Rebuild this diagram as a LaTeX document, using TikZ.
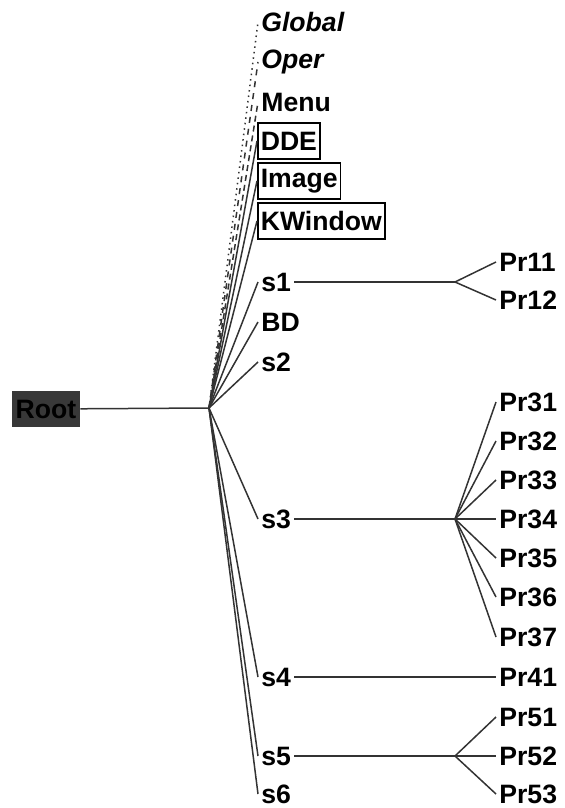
\documentclass[tikz,border=0pt]{standalone}
\usepackage{fontspec}
\setmainfont{Liberation Sans}
\tikzset{
	lbl/.style={anchor=west,inner sep=1.5pt,font=\bfseries\fontsize{13.3}{15}\selectfont},
	boxlbl/.style={lbl,draw,thick,minimum height=18pt},
	link/.style={line width=0.75pt,black!80}
}

\begin{document}
\begin{tikzpicture}[x=0.5pt,y=-0.5pt]
	\useasboundingbox (0,0) rectangle (564,808);
		\node[lbl,anchor=center,fill=black!78,text=black,minimum width=34pt,minimum height=18pt] (root) at (46,409) {Root};
		\coordinate (hub) at (209,408);
		\draw[link] (root) -- (hub);
			\node[lbl] (glob) at (258,22) {\itshape Global};
			\node[lbl] (oper) at (258,62) {\itshape Oper};
			\node[lbl] (menu) at (258,102) {Menu};
			\node[boxlbl] (dde) at (257,141) {DDE};
			\node[boxlbl] (image) at (257,181) {Image};
			\node[boxlbl] (kwin) at (257,221) {KWindow};
			\node[lbl] (s1) at (258,282) {s1};
			\node[lbl] (bd) at (258,322) {BD};
			\node[lbl] (s2) at (258,362) {s2};
			\node[lbl] (s3) at (258,519) {s3};
			\node[lbl] (s4) at (258,677) {s4};
			\node[lbl] (s5) at (258,756) {s5};
			\node[lbl] (s6) at (258,794) {s6};
		\draw[link,dotted] (hub) -- (glob.west);
		\draw[link,dashed] (hub) -- (oper.west);
		\draw[link,densely dashed] (hub) -- (menu.west);
		\foreach \c in {dde,image,kwin,s1,bd,s2,s3,s4,s5,s6}
			\draw[link] (hub) -- (\c.west);
		\coordinate (hub1) at (455,282);
		\coordinate (hub3) at (455,519);
		\coordinate (hub5) at (455,756);
			\node[lbl] (pr11) at (496,262) {Pr11};
			\node[lbl] (pr12) at (496,300) {Pr12};
			\foreach \n/\y in {1/402,2/441,3/480,4/519,5/558,6/597,7/637}
				\node[lbl] (pr3\n) at (496,\y) {Pr3\n};
			\node[lbl] (pr41) at (496,677) {Pr41};
			\node[lbl] (pr51) at (496,717) {Pr51};
			\node[lbl] (pr52) at (496,756) {Pr52};
			\node[lbl] (pr53) at (496,794) {Pr53};
		\draw[link] (s1) -- (hub1);
		\draw[link] (hub1) -- (pr11.west);
		\draw[link] (hub1) -- (pr12.west);
		\draw[link] (s3) -- (hub3);
		\foreach \n in {1,...,7}
			\draw[link] (hub3) -- (pr3\n.west);
		\draw[link] (s4) -- (pr41);
		\draw[link] (s5) -- (hub5);
		\draw[link] (hub5) -- (pr51.west);
		\draw[link] (hub5) -- (pr52.west);
		\draw[link] (hub5) -- (pr53.west);
\end{tikzpicture}
\end{document}
